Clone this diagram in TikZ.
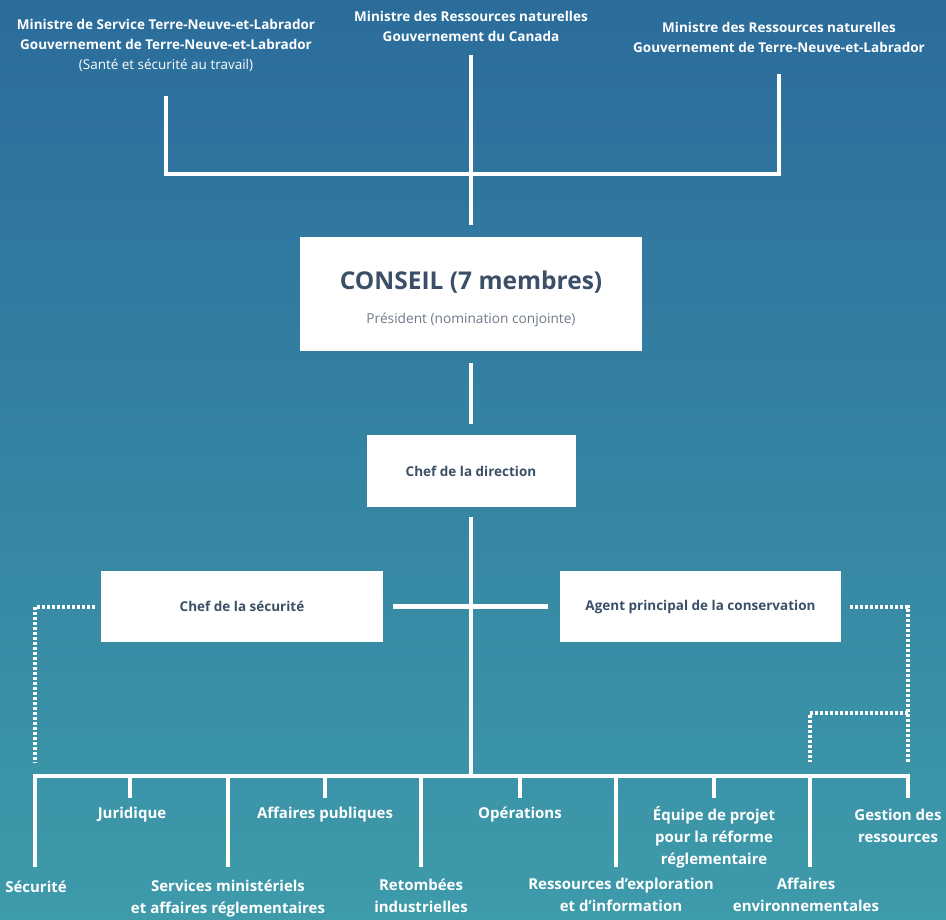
\documentclass[tikz,border=0pt]{standalone}
\usepackage{fontspec}
\setmainfont{Open Sans}
\usetikzlibrary{positioning}
\definecolor{bgtop}{HTML}{2B6C9B}
\definecolor{bgbot}{HTML}{3E9BAA}
\definecolor{slate}{HTML}{3B5068}
\definecolor{greytxt}{HTML}{6F7B88}
\begin{document}
\begin{tikzpicture}[x=1pt,y=-1pt,
	link/.style={draw=white,line width=4.5pt,line join=miter},
	dots/.style={draw=white,line width=4pt,dash pattern=on 3pt off 2pt},
	post/.style={fill=white,text=slate,inner sep=0pt,font=\bfseries\fontsize{13.5}{15}\selectfont},
	minister/.style={text=white,align=center,font=\bfseries\fontsize{13.5}{20}\selectfont},
	unit/.style={text=white,align=center,font=\bfseries\fontsize{15}{22}\selectfont}]
			\shade[top color=bgtop,bottom color=bgbot] (0,0) rectangle (946,920);
			\useasboundingbox (0,0) rectangle (946,920);
			\node[minister] (minsvc) at (166,45) {Ministre de Service Terre-Neuve-et-Labrador\\Gouvernement de Terre-Neuve-et-Labrador\\\mdseries\fontsize{13.5}{20}\selectfont(Santé et sécurité au travail)};
			\node[minister] (minrnc) at (471,26) {Ministre des Ressources naturelles\\Gouvernement du Canada};
			\node[minister] (minrntl) at (779,37) {Ministre des Ressources naturelles\\Gouvernement de Terre-Neuve-et-Labrador};
			\node[post,minimum width=342,minimum height=114,text height=20pt,text depth=29pt,font=\bfseries\fontsize{24.5}{30}\selectfont,
				label={[text=greytxt,anchor=base,label distance=-28pt,font=\fontsize{13.7}{14}\selectfont]south:Président (nomination conjointe)}] (conseil) at (471,294) {CONSEIL (7 membres)};
			\node[post,minimum width=209,minimum height=72] (direction) at (471,471) {Chef de la direction};
			\node[post,minimum width=282,minimum height=71] (securite) at (242,606.5) {Chef de la sécurité};
			\node[post,minimum width=281,minimum height=71] (agent) at (700.5,606.5) {Agent principal de la conservation};
			\coordinate (jtop) at (471,174);
			\coordinate (bus) at (471,776);
			\draw[link] ([yshift=-21]minsvc.south) -- (minsvc.south |- jtop) -- (minrntl.south |- jtop) -- ([yshift=-18]minrntl.south);
			\draw[link,shorten <=10,shorten >=12] (minrnc.south) -- (jtop) -- (conseil.north);
			\draw[link,shorten <=12,shorten >=11] (conseil) -- (direction);
			\draw[link,shorten <=10] (direction.south) -- (bus);
			\draw[link,shorten <=10,shorten >=12] (securite) -- (agent);
			\foreach \x/\yend [count=\i] in {35/867,130/798,228/867,325/798,421/867,520/798,616/867,714/798,810/867,908/798}
				\coordinate (drop\i) at (\x,\yend);
			\draw[link] (drop1) -- (drop1 |- bus) -- (drop10 |- bus) -- (drop10);
			\foreach \i in {2,...,9}
				\draw[link] (drop\i |- bus) -- (drop\i);
			\coordinate (secdots) at (35,763);
			\coordinate (gesdots) at (908,762);
			\coordinate (gesmid) at (908,713);
			\coordinate (envdots) at (810,762);
			\draw[dots] ([xshift=-6]securite.west) -| (secdots);
			\draw[dots] ([xshift=9]agent.east) -| (gesdots);
			\draw[dots] (gesmid) -| (envdots);
			\node[unit] (jur) at (132,815) {Juridique};
			\node[unit] (affpub) at (325,815) {Affaires publiques};
			\node[unit] (oper) at (520,815) {Opérations};
			\node[unit] (equipe) at (714,837) {Équipe de projet\\pour la réforme\\réglementaire};
			\node[unit] (gestion) at (898,826) {Gestion des\\ressources};
			\node[unit] (secu) at (36,887) {Sécurité};
			\node[unit] (servmin) at (228,899) {Services ministériels\\et affaires réglementaires};
			\node[unit] (retomb) at (421,896) {Retombées\\industrielles};
			\node[unit] (ressexp) at (621,895) {Ressources d'exploration\\et d'information};
			\node[unit] (affenv) at (806,895) {Affaires\\environnementales};
\end{tikzpicture}
\end{document}
